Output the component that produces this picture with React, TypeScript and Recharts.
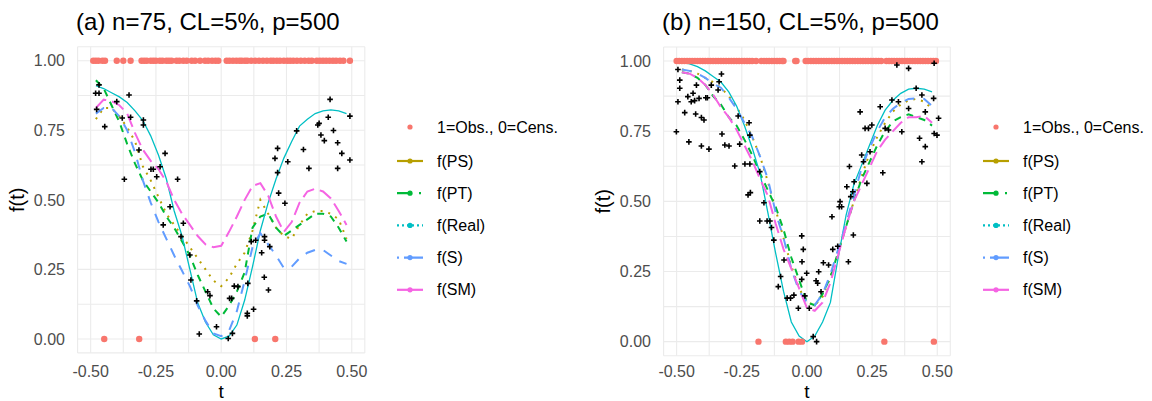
import { ComposedChart, Line, Scatter, XAxis, YAxis, CartesianGrid } from "recharts";

// shared t grid for the fitted curves
const T_GRID = [
    -0.48, -0.45, -0.42, -0.39, -0.36, -0.33, -0.3, -0.27, -0.24, -0.21, -0.18,
    -0.15, -0.12, -0.09, -0.06, -0.03, 0, 0.03, 0.06, 0.09, 0.12, 0.15,
    0.18, 0.21, 0.24, 0.27, 0.3, 0.33, 0.36, 0.39, 0.42, 0.45, 0.48
];

const SERIES_KEYS = ["ps", "pt", "real", "s", "sm"];
const SERIES_LABELS = ["f(PS)", "f(PT)", "f(Real)", "f(S)", "f(SM)"];
const POINT_LABEL = "1=Obs., 0=Cens.";

const X_TICKS = [-0.5, -0.375, -0.25, -0.125, 0, 0.125, 0.25, 0.375, 0.5];
const Y_TICKS = [0, 0.125, 0.25, 0.375, 0.5, 0.625, 0.75, 0.875, 1];

// ---- panel (a) n=75 ----
const A_PS = [0.79, 0.83, 0.83, 0.8, 0.76, 0.71, 0.62, 0.57, 0.51, 0.45, 0.41, 0.37, 0.33, 0.29, 0.25, 0.21, 0.19, 0.22, 0.27, 0.31, 0.39, 0.5, 0.45, 0.4, 0.37, 0.36, 0.41, 0.45, 0.46, 0.46, 0.45, 0.43, 0.36];
const A_PT = [0.93, 0.9, 0.84, 0.78, 0.7, 0.63, 0.57, 0.53, 0.49, 0.44, 0.4, 0.35, 0.3, 0.23, 0.17, 0.11, 0.08, 0.12, 0.17, 0.24, 0.4, 0.44, 0.45, 0.4, 0.37, 0.39, 0.41, 0.43, 0.45, 0.45, 0.44, 0.4, 0.35];
const A_REAL = [0.91, 0.9, 0.885, 0.87, 0.85, 0.82, 0.785, 0.73, 0.66, 0.575, 0.46, 0.37, 0.25, 0.13, 0.06, 0.015, 0, 0.01, 0.05, 0.14, 0.26, 0.39, 0.49, 0.575, 0.65, 0.71, 0.765, 0.79, 0.81, 0.82, 0.823, 0.82, 0.81];
const A_S = [0.81, 0.83, 0.83, 0.8, 0.75, 0.67, 0.57, 0.49, 0.42, 0.36, 0.3, 0.245, 0.19, 0.12, 0.065, 0.02, 0.01, 0.03, 0.1, 0.21, 0.33, 0.38, 0.34, 0.3, 0.255, 0.26, 0.29, 0.31, 0.32, 0.32, 0.3, 0.28, 0.27];
const A_SM = [0.83, 0.86, 0.855, 0.84, 0.81, 0.74, 0.68, 0.64, 0.61, 0.565, 0.5, 0.45, 0.41, 0.37, 0.34, 0.33, 0.335, 0.385, 0.44, 0.5, 0.55, 0.56, 0.515, 0.44, 0.385, 0.42, 0.49, 0.53, 0.54, 0.53, 0.505, 0.46, 0.41];

const A_OBS_T = [
    -0.49, -0.48, -0.47, -0.455, -0.445, -0.4, -0.375, -0.347,
    -0.305, -0.295, -0.285, -0.27, -0.26, -0.25, -0.235, -0.225, -0.21, -0.2, -0.19,
    -0.171, -0.16, -0.145, -0.132, -0.113, -0.1, -0.081, -0.062, -0.05, -0.035, -0.022, -0.011,
    0.021, 0.032, 0.045, 0.058, 0.07, 0.079, 0.091, 0.1, 0.115, 0.13, 0.145, 0.16, 0.175, 0.19, 0.2,
    0.213, 0.225, 0.24, 0.253, 0.264, 0.276, 0.29, 0.305, 0.32, 0.335, 0.347,
    0.366, 0.378, 0.39, 0.402, 0.415, 0.428, 0.44, 0.455, 0.468, 0.493
];
const A_CENS_T = [-0.448, -0.314, 0.129, 0.207];

const A_CROSSES = [
    [-0.481, 0.883], [-0.468, 0.883], [-0.468, 0.913], [-0.477, 0.825], [-0.446, 0.763],
    [-0.4, 0.853], [-0.353, 0.877], [-0.379, 0.794], [-0.347, 0.797], [-0.371, 0.574],
    [-0.298, 0.787], [-0.298, 0.769], [-0.315, 0.679], [-0.215, 0.667],
    [-0.269, 0.61], [-0.26, 0.61], [-0.247, 0.583], [-0.234, 0.619], [-0.167, 0.574],
    [-0.196, 0.475], [-0.222, 0.41], [-0.145, 0.416], [-0.154, 0.368],
    [-0.12, 0.302], [-0.116, 0.212], [-0.094, 0.137], [-0.084, 0.018],
    [-0.052, 0.17], [-0.043, 0.156], [-0.018, 0.044],
    [0.027, 0.002], [0.043, 0.02], [0.032, 0.146], [0.04, 0.146], [0.05, 0.19], [0.064, 0.188],
    [0.1, 0.092], [0.1, 0.083], [0.124, 0.107], [0.102, 0.2], [0.115, 0.35], [0.132, 0.355],
    [0.155, 0.31], [0.166, 0.368], [0.166, 0.355], [0.165, 0.222], [0.181, 0.176], [0.186, 0.332],
    [0.22, 0.524], [0.244, 0.488], [0.206, 0.649], [0.216, 0.685], [0.255, 0.637], [0.216, 0.598],
    [0.289, 0.748], [0.315, 0.681], [0.336, 0.613], [0.37, 0.769], [0.375, 0.775], [0.382, 0.733],
    [0.395, 0.713], [0.41, 0.797], [0.417, 0.861], [0.43, 0.749], [0.446, 0.705], [0.446, 0.613],
    [0.462, 0.667], [0.493, 0.801], [0.493, 0.643]
];

// ---- panel (b) n=150 ----
const B_PS = [0.97, 0.965, 0.955, 0.94, 0.925, 0.905, 0.875, 0.835, 0.79, 0.73, 0.66, 0.57, 0.47, 0.37, 0.27, 0.19, 0.14, 0.13, 0.16, 0.23, 0.32, 0.41, 0.5, 0.59, 0.67, 0.73, 0.78, 0.82, 0.845, 0.86, 0.865, 0.855, 0.83];
const B_PT = [0.96, 0.955, 0.94, 0.915, 0.875, 0.845, 0.8, 0.77, 0.72, 0.665, 0.6, 0.54, 0.48, 0.4, 0.3, 0.22, 0.14, 0.13, 0.17, 0.23, 0.32, 0.41, 0.5, 0.58, 0.64, 0.7, 0.75, 0.785, 0.8, 0.81, 0.8, 0.79, 0.77];
const B_REAL = [0.995, 0.99, 0.98, 0.965, 0.945, 0.925, 0.89, 0.84, 0.77, 0.69, 0.6, 0.46, 0.315, 0.18, 0.07, 0.02, 0, 0.02, 0.07, 0.14, 0.3, 0.45, 0.56, 0.63, 0.7, 0.77, 0.825, 0.86, 0.885, 0.9, 0.903, 0.9, 0.89];
const B_S = [0.97, 0.965, 0.955, 0.94, 0.92, 0.905, 0.87, 0.83, 0.78, 0.73, 0.66, 0.58, 0.46, 0.37, 0.26, 0.18, 0.14, 0.13, 0.17, 0.24, 0.33, 0.42, 0.52, 0.62, 0.69, 0.75, 0.8, 0.83, 0.85, 0.865, 0.867, 0.865, 0.84];
const B_SM = [0.96, 0.955, 0.94, 0.915, 0.88, 0.835, 0.8, 0.755, 0.7, 0.645, 0.58, 0.52, 0.42, 0.33, 0.26, 0.19, 0.12, 0.11, 0.14, 0.21, 0.31, 0.41, 0.5, 0.56, 0.62, 0.68, 0.72, 0.75, 0.78, 0.8, 0.8, 0.805, 0.78];

const B_OBS_T = [
    -0.5, -0.49, -0.48, -0.47, -0.46, -0.45, -0.44, -0.43, -0.42, -0.41, -0.4, -0.39, -0.38,
    -0.37, -0.36, -0.35, -0.34, -0.33, -0.32, -0.31, -0.3, -0.29, -0.28, -0.27, -0.26, -0.25,
    -0.24, -0.23, -0.22, -0.21, -0.195, -0.175, -0.165, -0.155, -0.145, -0.135, -0.125, -0.115,
    -0.105, -0.095, -0.09, -0.045, -0.04, -0.005, 0.005, 0.015, 0.025, 0.035, 0.045, 0.055, 0.065,
    0.075, 0.085, 0.095, 0.105, 0.115, 0.125, 0.135, 0.145, 0.155, 0.165, 0.175, 0.185, 0.195,
    0.205, 0.215, 0.225, 0.235, 0.245, 0.255, 0.265, 0.275, 0.285, 0.305, 0.315, 0.325, 0.335,
    0.345, 0.355, 0.365, 0.375, 0.385, 0.395, 0.405, 0.415, 0.425, 0.435, 0.445, 0.455, 0.465,
    0.475, 0.485, 0.495
];
const B_CENS_T = [-0.186, -0.081, -0.068, -0.055, -0.032, -0.019, 0.297, 0.487];

const B_CROSSES = [
    [-0.495, 0.97], [-0.488, 0.932], [-0.488, 0.903], [-0.495, 0.855], [-0.501, 0.748], [-0.469, 0.816],
    [-0.453, 0.712], [-0.457, 0.873], [-0.444, 0.855], [-0.431, 0.859], [-0.437, 0.885], [-0.424, 0.914],
    [-0.427, 0.811], [-0.414, 0.867], [-0.405, 0.799], [-0.395, 0.79], [-0.405, 0.697], [-0.388, 0.869],
    [-0.382, 0.869], [-0.376, 0.686], [-0.367, 0.914], [-0.337, 0.926], [-0.328, 0.954], [-0.341, 0.897],
    [-0.326, 0.74], [-0.315, 0.701], [-0.299, 0.697], [-0.277, 0.626], [-0.264, 0.804], [-0.258, 0.704],
    [-0.238, 0.633], [-0.219, 0.633], [-0.222, 0.78], [-0.219, 0.736], [-0.181, 0.606], [-0.226, 0.523],
    [-0.217, 0.531], [-0.165, 0.495], [-0.181, 0.43], [-0.153, 0.43], [-0.142, 0.43], [-0.136, 0.407],
    [-0.127, 0.362], [-0.11, 0.196], [-0.101, 0.232], [-0.088, 0.291], [-0.076, 0.155], [-0.063, 0.155],
    [-0.05, 0.166], [-0.033, 0.119], [-0.02, 0.377], [-0.014, 0.329], [-0.019, 0.285], [-0.001, 0.244],
    [-0.02, 0.222], [-0.008, 0.163], [0.009, 0.119], [0.024, 0.018], [0.037, 0.0], [0.035, 0.217],
    [0.041, 0.208], [0.045, 0.249], [0.054, 0.178], [0.063, 0.281], [0.083, 0.273], [0.096, 0.445],
    [0.118, 0.34], [0.099, 0.329], [0.124, 0.481], [0.133, 0.481], [0.127, 0.499], [0.153, 0.552],
    [0.159, 0.285], [0.163, 0.624], [0.168, 0.517], [0.178, 0.38], [0.181, 0.57], [0.176, 0.534],
    [0.204, 0.819], [0.21, 0.665], [0.217, 0.641], [0.223, 0.76], [0.236, 0.76], [0.23, 0.564],
    [0.242, 0.677], [0.249, 0.772], [0.281, 0.837], [0.291, 0.602], [0.3, 0.76], [0.313, 0.754],
    [0.326, 0.861], [0.345, 0.986], [0.351, 0.855], [0.364, 0.748], [0.39, 0.831], [0.39, 0.974],
    [0.419, 0.903], [0.432, 0.725], [0.441, 0.879], [0.454, 0.695], [0.441, 0.641], [0.454, 0.819],
    [0.486, 0.867], [0.488, 0.742], [0.499, 0.736], [0.505, 0.796], [0.488, 0.992]
];

const COLORS: Record<string, string> = {
    point: "#F8766D",
    ps: "#B79F00",
    pt: "#00BA38",
    real: "#00BFC4",
    s: "#619CFF",
    sm: "#F564E3"
};

const DASH: Record<string, string | undefined> = {
    ps: "2 6",
    pt: "7 6",
    real: undefined,
    s: "10 9",
    sm: "14 6"
};

// legend keys use a short version of each pattern
const KEY_DASH: Record<string, string | undefined> = {
    ps: undefined,
    pt: "15 7 2 10",
    real: "2 3 2 3",
    s: "2 5 30",
    sm: undefined
};

const FONT = "'Liberation Sans', Arial, sans-serif";

function buildCurves(values: number[][]) {
    return T_GRID.map((t, i) => {
        const row: Record<string, number> = { t };
        SERIES_KEYS.forEach((k, j) => {
            row[k] = values[j][i];
        });
        return row;
    });
}

const fmtTick = (v: number) => (Math.abs(v * 4 - Math.round(v * 4)) < 1e-9 ? v.toFixed(2) : "");

const RedDot = (p: any) => <circle cx={p.cx} cy={p.cy} r={3.2} fill={COLORS.point} />;

const Cross = (p: any) => (
    <path
        d={`M${p.cx - 2.8},${p.cy}H${p.cx + 2.8}M${p.cx},${p.cy - 2.8}V${p.cy + 2.8}`}
        stroke="#000"
        strokeWidth={1.6}
    />
);

function YTitle({ viewBox }: any) {
    const cx = viewBox.x + viewBox.width - 60.5;
    const cy = viewBox.y + viewBox.height / 2;
    return (
        <text x={cx} y={cy} transform={`rotate(-90 ${cx} ${cy})`} textAnchor="middle"
            dominantBaseline="central" fontSize={20} fill="#000">
            f(t)
        </text>
    );
}

function XTitle({ viewBox }: any) {
    return (
        <text x={viewBox.x + viewBox.width / 2} y={viewBox.y + viewBox.height - 3} textAnchor="middle"
            fontSize={19} fill="#000">
            t
        </text>
    );
}

function PanelLegend({ left }: { left: number }) {
    const rowY = (i: number) => 51 + i * 32.2;
    return (
        <svg width={190} height={200} style={{ position: "absolute", left, top: 110 }}>
            <circle cx={20} cy={17} r={2.6} fill={COLORS.point} />
            <text x={47} y={17} dominantBaseline="central" fontSize={16} fill="#000">{POINT_LABEL}</text>
            {SERIES_KEYS.map((k, i) => (
                <g key={k}>
                    <line x1={7} x2={33} y1={rowY(i)} y2={rowY(i)} stroke={COLORS[k]} strokeWidth={2.2}
                        strokeDasharray={KEY_DASH[k]} />
                    <circle cx={20} cy={rowY(i)} r={2.6} fill={COLORS[k]} />
                    <text x={47} y={rowY(i)} dominantBaseline="central" fontSize={16} fill="#000">
                        {SERIES_LABELS[i]}
                    </text>
                </g>
            ))}
        </svg>
    );
}

interface PanelProps {
    title: string;
    left: number;
    plot: { left: number; right: number; top: number; bottom: number };
    tickGap: number;
    curves: Record<string, number>[];
    obs: number[];
    cens: number[];
    crosses: number[][];
}

function Panel({ title, left, plot, tickGap, curves, obs, cens, crosses }: PanelProps) {
    const width = 576;
    const height = 401;
    const points = [...obs.map((t) => ({ t, f: 1 })), ...cens.map((t) => ({ t, f: 0 }))];
    const crossData = crosses.map(([t, f]) => ({ t, f }));

    return (
        <>
            <div style={{
                position: "absolute", left: plot.left - 1.5, top: 9.5, fontSize: 24,
                lineHeight: "24px", whiteSpace: "nowrap", color: "#000"
            }}>
                {title}
            </div>
            <div style={{ position: "absolute", left, top: 0 }}>
                <ComposedChart
                    width={width}
                    height={height}
                    data={curves}
                    margin={{ top: plot.top, right: left + width - plot.right, bottom: 0, left: 0 }}
                >
                    <CartesianGrid stroke="#EBEBEB" strokeWidth={1.1} />
                    <XAxis type="number" dataKey="t" domain={[-0.55, 0.55]} ticks={X_TICKS} interval={0}
                        tickFormatter={fmtTick} axisLine={false} tickLine={false} tickSize={0}
                        tickMargin={tickGap} height={height - plot.bottom} allowDataOverflow
                        tick={{ fill: "#4D4D4D", fontSize: 16 }} label={<XTitle />} />
                    <YAxis type="number" domain={[-0.05, 1.05]} ticks={Y_TICKS} interval={0}
                        tickFormatter={fmtTick} axisLine={false} tickLine={false} tickSize={0}
                        tickMargin={12.6} width={plot.left - left} allowDataOverflow
                        tick={{ fill: "#4D4D4D", fontSize: 16 }} label={<YTitle />} />
                    <Scatter data={points} dataKey="f" shape={RedDot} isAnimationActive={false} />
                    <Scatter data={crossData} dataKey="f" shape={Cross} isAnimationActive={false} />
                    {SERIES_KEYS.map((k) => (
                        <Line key={k} type="linear" dataKey={k} stroke={COLORS[k]}
                            strokeWidth={k === "real" ? 1.3 : 2}
                            strokeDasharray={DASH[k]} dot={false} activeDot={false}
                            isAnimationActive={false} />
                    ))}
                </ComposedChart>
            </div>
            <PanelLegend left={plot.right + 25.5} />
        </>
    );
}

export default function App() {
    return (
        <div style={{
            position: "absolute", left: 0, top: 0, width: 1152, height: 401,
            background: "#fff", overflow: "hidden", fontFamily: FONT
        }}>
            <Panel
                title="(a) n=75, CL=5%, p=500"
                left={0}
                plot={{ left: 77.6, right: 364.8, top: 46.8, bottom: 352.9 }}
                tickGap={12.4}
                curves={buildCurves([A_PS, A_PT, A_REAL, A_S, A_SM])}
                obs={A_OBS_T}
                cens={A_CENS_T}
                crosses={A_CROSSES}
            />
            <Panel
                title="(b) n=150, CL=5%, p=500"
                left={576}
                plot={{ left: 663.6, right: 950.3, top: 47, bottom: 355.7 }}
                tickGap={9.9}
                curves={buildCurves([B_PS, B_PT, B_REAL, B_S, B_SM])}
                obs={B_OBS_T}
                cens={B_CENS_T}
                crosses={B_CROSSES}
            />
        </div>
    );
}
